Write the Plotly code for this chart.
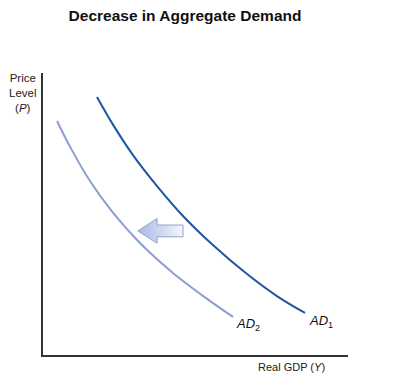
import plotly.graph_objects as go

# Curve data (Real GDP on x, Price level on y)
ad1_x = [1.77, 2.30, 2.95, 3.74, 4.59, 5.57, 6.69, 7.67, 8.59]
ad1_y = [9.15, 8.16, 7.09, 5.99, 4.93, 3.90, 2.87, 2.09, 1.49]
ad2_x = [0.46, 0.89, 1.54, 2.30, 3.18, 4.26, 5.38, 6.23]
ad2_y = [8.30, 7.38, 6.17, 5.04, 3.97, 2.91, 1.99, 1.35]

# Shift arrow (tip x, head base x, tail x, y level, half heights)
arrow_tip_x = 3.11
arrow_head_base_x = 3.74
arrow_tail_x = 4.59
arrow_y = 4.40
arrow_head_half = 0.44
arrow_body_half = 0.21

FONT = "Liberation Sans, Arial, Helvetica"
W, H = 398, 373  # page body adds 8px margin

fig = go.Figure()

fig.add_trace(go.Scatter(x=ad1_x, y=ad1_y, mode="lines",
                         line=dict(color="#1d56a3", width=2, shape="spline", smoothing=1.0),
                         hoverinfo="skip"))
fig.add_trace(go.Scatter(x=ad2_x, y=ad2_y, mode="lines",
                         line=dict(color="#8d9ed0", width=2, shape="spline", smoothing=1.0),
                         hoverinfo="skip"))

ax = [arrow_tip_x, arrow_head_base_x, arrow_head_base_x, arrow_tail_x,
      arrow_tail_x, arrow_head_base_x, arrow_head_base_x, arrow_tip_x]
ay = [arrow_y, arrow_y + arrow_head_half, arrow_y + arrow_body_half, arrow_y + arrow_body_half,
      arrow_y - arrow_body_half, arrow_y - arrow_body_half, arrow_y - arrow_head_half, arrow_y]
fig.add_trace(go.Scatter(x=ax, y=ay, mode="lines", fill="toself",
                         line=dict(color="#8fa2d2", width=1),
                         fillgradient=dict(type="horizontal",
                                           colorscale=[[0, "#a9b9e2"], [1, "#f2f5fb"]]),
                         hoverinfo="skip"))

fig.add_annotation(x=ad1_x[-1], y=ad1_y[-1], text="<i>AD</i><sub>1</sub>",
                   showarrow=False, xanchor="left", yanchor="middle",
                   xshift=2, yshift=-9,
                   font=dict(family=FONT, size=13, color="#111"))
fig.add_annotation(x=ad2_x[-1], y=ad2_y[-1], text="<i>AD</i><sub>2</sub>",
                   showarrow=False, xanchor="left", yanchor="middle",
                   xshift=1, yshift=-8,
                   font=dict(family=FONT, size=13, color="#111"))

fig.add_annotation(xref="paper", yref="paper", x=-20 / 305, y=1.01,
                   text="Price<br>Level<br>(<i>P</i>)", showarrow=False,
                   xanchor="center", yanchor="top", align="center",
                   font=dict(family=FONT, size=11.5, color="#222"))
fig.add_annotation(xref="paper", yref="paper", x=(327 - 43) / 305, y=-0.015,
                   text="Real GDP (<i>Y</i>)", showarrow=False,
                   xanchor="right", yanchor="top",
                   font=dict(family=FONT, size=11, color="#222"))

fig.update_layout(
    width=W, height=H,
    margin=dict(l=35, r=W - 340, t=65, b=H - 347, pad=0),
    paper_bgcolor="white", plot_bgcolor="white",
    showlegend=False,
    title=dict(text="<b>Decrease in Aggregate Demand</b>", x=177 / W, xanchor="center",
               y=1 - 8 / H, yanchor="middle",
               font=dict(family=FONT, size=15.5, color="#111")),
    xaxis=dict(range=[0, 10], showline=True, linecolor="#333", linewidth=1.5,
               showgrid=False, zeroline=False, showticklabels=False, ticks="", fixedrange=True),
    yaxis=dict(range=[0, 10], showline=True, linecolor="#333", linewidth=1.5,
               showgrid=False, zeroline=False, showticklabels=False, ticks="", fixedrange=True),
)

fig.write_html("out.html")
